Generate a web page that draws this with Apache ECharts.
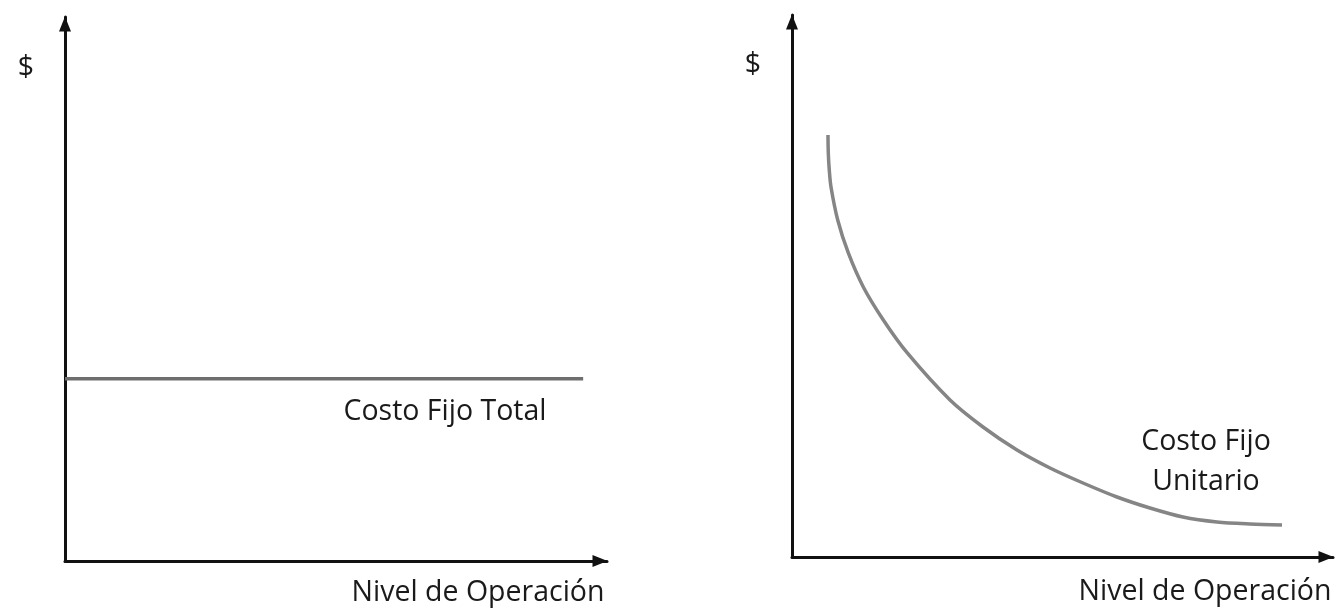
<!DOCTYPE html>
<html>
<head>
<meta charset="utf-8">
<script src="https://cdn.jsdelivr.net/npm/echarts@6/dist/echarts.min.js"></script>
<style>html,body{margin:0;padding:0;background:#fff}#c{width:1337px;height:609px}</style>
</head>
<body>
<div id="c"></div>
<script>
// Left panel: total fixed cost (constant)
const totalFixedX = [0, 95.6];
const totalFixedY = [33.5, 33.5];
// Right panel: unit fixed cost (decreasing curve)
const unitFixedX = [6.65, 6.71, 6.89, 7.21, 8.45, 10.41, 13.18, 16.88, 21.31, 29.21, 35.30, 41.59, 47.69, 53.79, 60.07, 66.17, 72.27, 78.56, 84.66, 90.57];
const unitFixedY = [77.86, 74.54, 71.40, 68.27, 62.18, 56.09, 49.82, 43.73, 37.64, 28.97, 23.99, 19.74, 16.42, 13.65, 11.07, 9.04, 7.38, 6.46, 6.09, 5.90];
const yLabel = "$";
const xLabel = "Nivel de Operación";
const leftCurveLabel = "Costo Fijo Total";
const rightCurveLabel = "Costo Fijo\nUnitario";

const chart = echarts.init(document.getElementById('c'));
const font = '"Open Sans", Lato, sans-serif';
const axisCommon = {
  type: 'value', min: 0, max: 100,
  axisLine: { show: true, symbol: ['none', 'triangle'], symbolSize: [12, 15], symbolOffset: [0, -7],
    lineStyle: { color: '#111', width: 3 } },
  axisTick: { show: false }, axisLabel: { show: false }, splitLine: { show: false }
};
const textStyle = { fill: '#1a1a1a', font: '28.5px ' + font };
chart.setOption({
  animation: false,
  grid: [
    { left: 65, top: 17, width: 542, height: 544 },
    { left: 792, top: 15, width: 541, height: 542 }
  ],
  xAxis: [
    Object.assign({ gridIndex: 0 }, axisCommon),
    Object.assign({ gridIndex: 1 }, axisCommon)
  ],
  yAxis: [
    Object.assign({ gridIndex: 0 }, axisCommon),
    Object.assign({ gridIndex: 1 }, axisCommon)
  ],
  series: [
    { type: 'line', xAxisIndex: 0, yAxisIndex: 0, showSymbol: false,
      data: totalFixedX.map((x, i) => [x, totalFixedY[i]]),
      lineStyle: { color: '#6e6e6e', width: 3.5 } },
    { type: 'line', xAxisIndex: 1, yAxisIndex: 1, showSymbol: false, smooth: 0.3,
      data: unitFixedX.map((x, i) => [x, unitFixedY[i]]),
      lineStyle: { color: '#858585', width: 3.5 } }
  ],
  graphic: [
    { type: 'text', x: 26, y: 68, style: Object.assign({ text: yLabel, align: 'center', verticalAlign: 'middle' }, textStyle) },
    { type: 'text', x: 753, y: 65, style: Object.assign({ text: yLabel, align: 'center', verticalAlign: 'middle' }, textStyle) },
    { type: 'text', x: 445, y: 412, style: Object.assign({ text: leftCurveLabel, align: 'center', verticalAlign: 'middle' }, textStyle) },
    { type: 'text', x: 1206, y: 462, style: Object.assign({ text: rightCurveLabel, align: 'center', verticalAlign: 'middle', lineHeight: 40 }, textStyle) },
    { type: 'text', x: 478, y: 593, style: Object.assign({ text: xLabel, align: 'center', verticalAlign: 'middle' }, textStyle) },
    { type: 'text', x: 1205, y: 592, style: Object.assign({ text: xLabel, align: 'center', verticalAlign: 'middle' }, textStyle) }
  ]
});
</script>
</body>
</html>
